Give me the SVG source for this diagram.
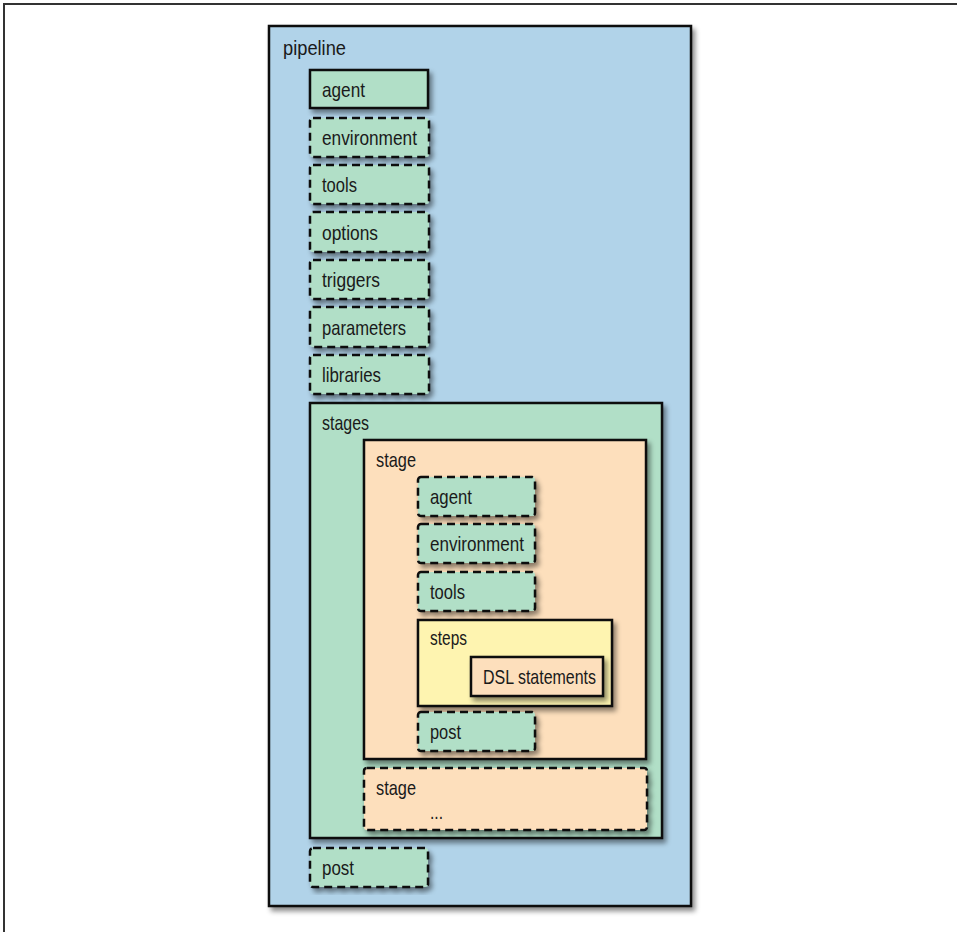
<svg xmlns="http://www.w3.org/2000/svg" width="957" height="932" viewBox="0 0 957 932">
<defs>
<filter id="sh" x="-10%" y="-10%" width="130%" height="130%">
<feDropShadow dx="3" dy="4" stdDeviation="2.5" flood-color="#000" flood-opacity="0.45"/>
</filter>
<style>
.t{font-family:"Liberation Sans Narrow","Liberation Sans",Arial,sans-serif;font-size:21px;fill:#1a1a1a}
.solid{stroke:#111;stroke-width:2.5;filter:url(#sh)}
.dash{stroke:#111;stroke-width:2.5;stroke-dasharray:8 5;filter:url(#sh)}
.blue{fill:#b1d3e9}
.green{fill:#b1dfc7}
.peach{fill:#fddfbc}
.yellow{fill:#fef4b0}
</style>
</defs>
<rect width="957" height="932" fill="#fff"/>
<g id="frame" fill="none" stroke="#333" stroke-width="2">
<line x1="3" y1="4" x2="957" y2="4"/>
<line x1="4" y1="3" x2="4" y2="932"/>
</g>
<g id="pipeline">
<rect x="269" y="26" width="422" height="880" class="blue solid"/>
<text x="283" y="55" class="t" textLength="63" lengthAdjust="spacingAndGlyphs">pipeline</text>
</g>
<g id="agent">
<rect x="310" y="70" width="118" height="38" class="green solid"/>
<text x="322" y="97" class="t" textLength="43" lengthAdjust="spacingAndGlyphs">agent</text>
</g>
<g id="environment">
<rect x="310" y="118" width="119" height="39" rx="3" class="green dash"/>
<text x="322" y="145" class="t" textLength="95" lengthAdjust="spacingAndGlyphs">environment</text>
</g>
<g id="tools">
<rect x="310" y="165" width="119" height="39" rx="3" class="green dash"/>
<text x="322" y="192" class="t" textLength="35" lengthAdjust="spacingAndGlyphs">tools</text>
</g>
<g id="options">
<rect x="310" y="212" width="119" height="40" rx="3" class="green dash"/>
<text x="322" y="240" class="t" textLength="56" lengthAdjust="spacingAndGlyphs">options</text>
</g>
<g id="triggers">
<rect x="310" y="260" width="119" height="39" rx="3" class="green dash"/>
<text x="322" y="287" class="t" textLength="58" lengthAdjust="spacingAndGlyphs">triggers</text>
</g>
<g id="parameters">
<rect x="310" y="307" width="119" height="40" rx="3" class="green dash"/>
<text x="322" y="335" class="t" textLength="84" lengthAdjust="spacingAndGlyphs">parameters</text>
</g>
<g id="libraries">
<rect x="310" y="355" width="119" height="39" rx="3" class="green dash"/>
<text x="322" y="382" class="t" textLength="59" lengthAdjust="spacingAndGlyphs">libraries</text>
</g>
<g id="stages">
<rect x="310" y="403" width="352" height="435" class="green solid"/>
<text x="322" y="430" class="t" textLength="47" lengthAdjust="spacingAndGlyphs">stages</text>
</g>
<g id="stage">
<rect x="364" y="440" width="282" height="319" class="peach solid"/>
<text x="376" y="467" class="t" textLength="40" lengthAdjust="spacingAndGlyphs">stage</text>
</g>
<g id="stage-agent">
<rect x="418" y="477" width="117" height="39" rx="3" class="green dash"/>
<text x="430" y="504" class="t" textLength="42" lengthAdjust="spacingAndGlyphs">agent</text>
</g>
<g id="stage-environment">
<rect x="418" y="524" width="117" height="39" rx="3" class="green dash"/>
<text x="430" y="551" class="t" textLength="94" lengthAdjust="spacingAndGlyphs">environment</text>
</g>
<g id="stage-tools">
<rect x="418" y="572" width="117" height="39" rx="3" class="green dash"/>
<text x="430" y="599" class="t" textLength="35" lengthAdjust="spacingAndGlyphs">tools</text>
</g>
<g id="steps">
<rect x="418" y="620" width="194" height="86" class="yellow solid"/>
<text x="430" y="645" class="t" textLength="37" lengthAdjust="spacingAndGlyphs">steps</text>
</g>
<g id="dsl">
<rect x="471" y="657" width="132" height="39" class="peach solid"/>
<text x="483" y="684" class="t" textLength="113" lengthAdjust="spacingAndGlyphs">DSL statements</text>
</g>
<g id="stage-post">
<rect x="418" y="712" width="117" height="39" rx="3" class="green dash"/>
<text x="430" y="739" class="t" textLength="31" lengthAdjust="spacingAndGlyphs">post</text>
</g>
<g id="stage2">
<rect x="364" y="768" width="283" height="62" rx="3" class="peach dash"/>
<text x="376" y="795" class="t" textLength="40" lengthAdjust="spacingAndGlyphs">stage</text>
<text x="430" y="819" class="t" textLength="13" lengthAdjust="spacingAndGlyphs">...</text>
</g>
<g id="post">
<rect x="310" y="848" width="118" height="39" rx="3" class="green dash"/>
<text x="322" y="875" class="t" textLength="32" lengthAdjust="spacingAndGlyphs">post</text>
</g>
<g id="connectors"/>
</svg>
